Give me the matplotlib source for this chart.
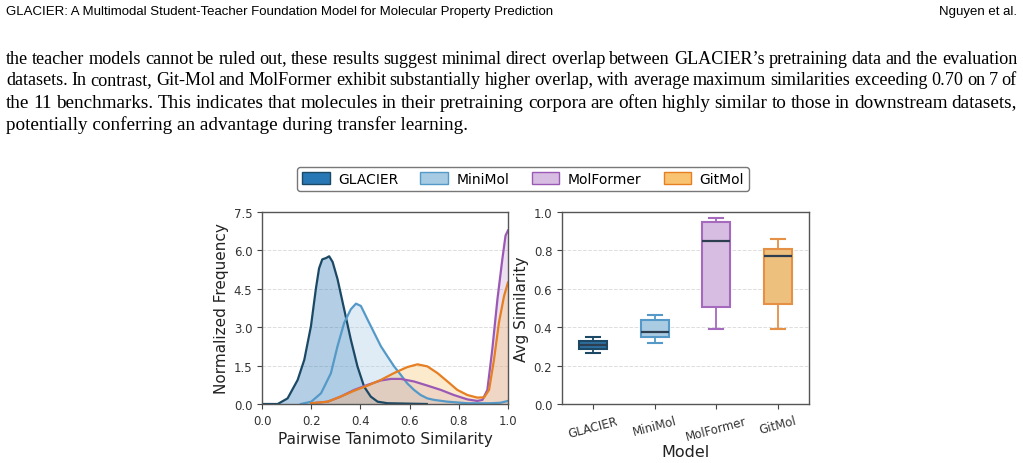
import numpy as np
import matplotlib.pyplot as plt
from matplotlib.patches import Patch

W, H = 1023, 464

# ---- data ----
models = ['GLACIER', 'MiniMol', 'MolFormer', 'GitMol']

glacier_x = [0.0, 0.064, 0.104, 0.145, 0.172, 0.199, 0.219, 0.232, 0.245, 0.26, 0.273, 0.287,
             0.307, 0.334, 0.361, 0.388, 0.415, 0.442, 0.47, 0.51, 0.67]
glacier_y = [0.0, 0.0, 0.22, 0.94, 1.73, 3.04, 4.5, 5.3, 5.65, 5.7, 5.77, 5.55,
             4.88, 3.7, 2.52, 1.47, 0.68, 0.29, 0.09, 0.03, 0.0]

minimol_x = [0.158, 0.2, 0.24, 0.28, 0.307, 0.334, 0.361, 0.382, 0.402, 0.429, 0.456, 0.483,
             0.51, 0.537, 0.564, 0.59, 0.618, 0.645, 0.672, 0.7, 0.754, 0.835, 0.93, 0.97, 1.0]
minimol_y = [0.0, 0.09, 0.42, 1.2, 2.26, 3.17, 3.7, 3.92, 3.83, 3.3, 2.78, 2.26,
             1.86, 1.47, 1.14, 0.81, 0.55, 0.35, 0.22, 0.16, 0.09, 0.03, 0.03, 0.05, 0.12]

molformer_x = [0.2, 0.267, 0.32, 0.375, 0.43, 0.483, 0.524, 0.564, 0.618, 0.672, 0.727, 0.78,
               0.835, 0.875, 0.896, 0.916, 0.936, 0.957, 0.977, 0.99, 1.0]
molformer_y = [0.03, 0.09, 0.29, 0.55, 0.75, 0.92, 0.98, 0.98, 0.88, 0.72, 0.55, 0.35,
               0.18, 0.12, 0.16, 0.55, 2.12, 4.09, 5.66, 6.58, 6.78]

gitmol_x = [0.2, 0.267, 0.32, 0.375, 0.43, 0.483, 0.537, 0.59, 0.632, 0.672, 0.713, 0.754,
            0.794, 0.835, 0.875, 0.903, 0.923, 0.943, 0.963, 0.984, 1.0]
gitmol_y = [0.03, 0.09, 0.29, 0.52, 0.72, 0.94, 1.21, 1.44, 1.55, 1.47, 1.21, 0.88,
            0.55, 0.35, 0.25, 0.26, 0.55, 1.73, 3.17, 4.22, 4.75]

# box stats: whislo, q1, med, q3, whishi
box_lo = [0.266, 0.319, 0.389, 0.393]
box_q1 = [0.286, 0.350, 0.503, 0.523]
box_med = [0.308, 0.377, 0.849, 0.772]
box_q3 = [0.330, 0.435, 0.947, 0.808]
box_hi = [0.350, 0.466, 0.968, 0.861]

line_cols = ['#1b4965', '#5499c7', '#9b59b6', '#e67e22']
fill_cols = ['#2878b5', '#a6cbe3', '#c39bd3', '#f8c471']
patch_cols = ['#2878b5', '#a6cbe3', '#d7bde2', '#f8c471']
box_faces = ['#2e6f9e', '#a9cce3', '#d7bde2', '#eec07e']
box_edges = ['#1b4965', '#5499c7', '#a569bd', '#e59044']

fig = plt.figure(figsize=(W / 100, H / 100), dpi=100)

# ---- page text ----
hdr_font = ['Liberation Sans Narrow', 'Liberation Sans']
fig.text(6 / W, 1 - 12 / H, 'GLACIER: A Multimodal Student-Teacher Foundation Model for Molecular Property Prediction',
         family=hdr_font, fontsize=9.5, va='center', ha='left')
fig.text(1017 / W, 1 - 12 / H, 'Nguyen et al.', family=hdr_font, fontsize=9.5, va='center', ha='right')

body = [
    "the teacher models cannot be ruled out, these results suggest minimal direct overlap between GLACIER\u2019s pretraining data and the evaluation",
    "datasets. In contrast, Git-Mol and MolFormer exhibit substantially higher overlap, with average maximum similarities exceeding 0.70 on 7 of",
    "the 11 benchmarks. This indicates that molecules in their pretraining corpora are often highly similar to those in downstream datasets,",
    "potentially conferring an advantage during transfer learning.",
]
body_y = [59, 81, 103, 125]
body_size = 13.8

renderer = fig.canvas.get_renderer()
for i, (line, yy) in enumerate(zip(body, body_y)):
    if i == len(body) - 1:
        fig.text(6 / W, 1 - yy / H, line, family='Liberation Serif', fontsize=body_size, va='center')
        continue
    words = line.split()
    size = body_size
    while True:
        objs = [fig.text(0, 1 - yy / H, w, family='Liberation Serif', fontsize=size, va='center') for w in words]
        widths = [t.get_window_extent(renderer).width for t in objs]
        gap = (1017 - 6 - sum(widths)) / (len(words) - 1)
        if gap >= 3.6 or size < 10:
            break
        for t in objs:
            t.remove()
        size -= 0.1
    x = 6
    for t, w in zip(objs, widths):
        t.set_x(x / W)
        x += w + gap

# ---- left: KDE ----
ax1 = fig.add_axes([262 / W, 59 / H, 246 / W, 192 / H])
series = [(glacier_x, glacier_y), (minimol_x, minimol_y), (molformer_x, molformer_y), (gitmol_x, gitmol_y)]
alphas = [0.35, 0.35, 0.3, 0.35]
for (xs, ys), lc, fc, a in zip(series, line_cols, fill_cols, alphas):
    ax1.fill_between(xs, ys, color=fc, alpha=a, lw=0)
    ax1.plot(xs, ys, color=lc, lw=1.6)
ax1.set_xlim(0, 1)
ax1.set_ylim(0, 7.5)
ax1.set_xticks(np.arange(0, 1.01, 0.2))
ax1.set_yticks(np.arange(0, 7.6, 1.5))
ax1.set_xlabel('Pairwise Tanimoto Similarity', fontsize=11, color='#222222', labelpad=3)
ax1.set_ylabel('Normalized Frequency', fontsize=11, color='#222222', labelpad=3)

# ---- right: boxplot ----
ax2 = fig.add_axes([562 / W, 59 / H, 247 / W, 192 / H])
stats = []
for i, m in enumerate(models):
    stats.append(dict(label=m, whislo=box_lo[i], q1=box_q1[i], med=box_med[i],
                      q3=box_q3[i], whishi=box_hi[i], fliers=[]))
bp = ax2.bxp(stats, positions=range(4), widths=0.45, patch_artist=True, showfliers=False)
for i in range(4):
    bp['boxes'][i].set(facecolor=box_faces[i], edgecolor=box_edges[i], lw=1.5)
    bp['medians'][i].set(color='#2c3e50', lw=1.6)
    for j in (2 * i, 2 * i + 1):
        bp['whiskers'][j].set(color=box_edges[i], lw=1.3)
        bp['caps'][j].set(color=box_edges[i], lw=1.5)
ax2.set_xlim(-0.5, 3.5)
ax2.set_ylim(0, 1.0)
ax2.set_yticks(np.arange(0, 1.01, 0.2))
ax2.set_xticks(range(4))
ax2.set_xticklabels(models, rotation=15, fontsize=8.5)
ax2.set_xlabel('Model', fontsize=11.5, color='#222222', labelpad=1)
ax2.set_ylabel('Avg Similarity', fontsize=11, color='#222222', labelpad=3)

for ax in (ax1, ax2):
    ax.grid(axis='y', ls='--', color='#dddddd', lw=0.7)
    ax.set_axisbelow(True)
    ax.tick_params(labelsize=8.5, length=3.5, color='#444444', labelcolor='#333333')
    for s in ax.spines.values():
        s.set_color('#555555')
        s.set_linewidth(1.0)

handles = [Patch(facecolor=pc, edgecolor=ec, label=m) for pc, ec, m in zip(patch_cols, line_cols, models)]
fig.legend(handles=handles, loc='center', bbox_to_anchor=(523 / W, 1 - 180 / H), ncol=4,
           fontsize=10, frameon=True, edgecolor='#555555', handlelength=2.0, handleheight=1.0,
           columnspacing=1.6, handletextpad=0.6, borderpad=0.35)

fig.savefig('out.png', dpi=100)
